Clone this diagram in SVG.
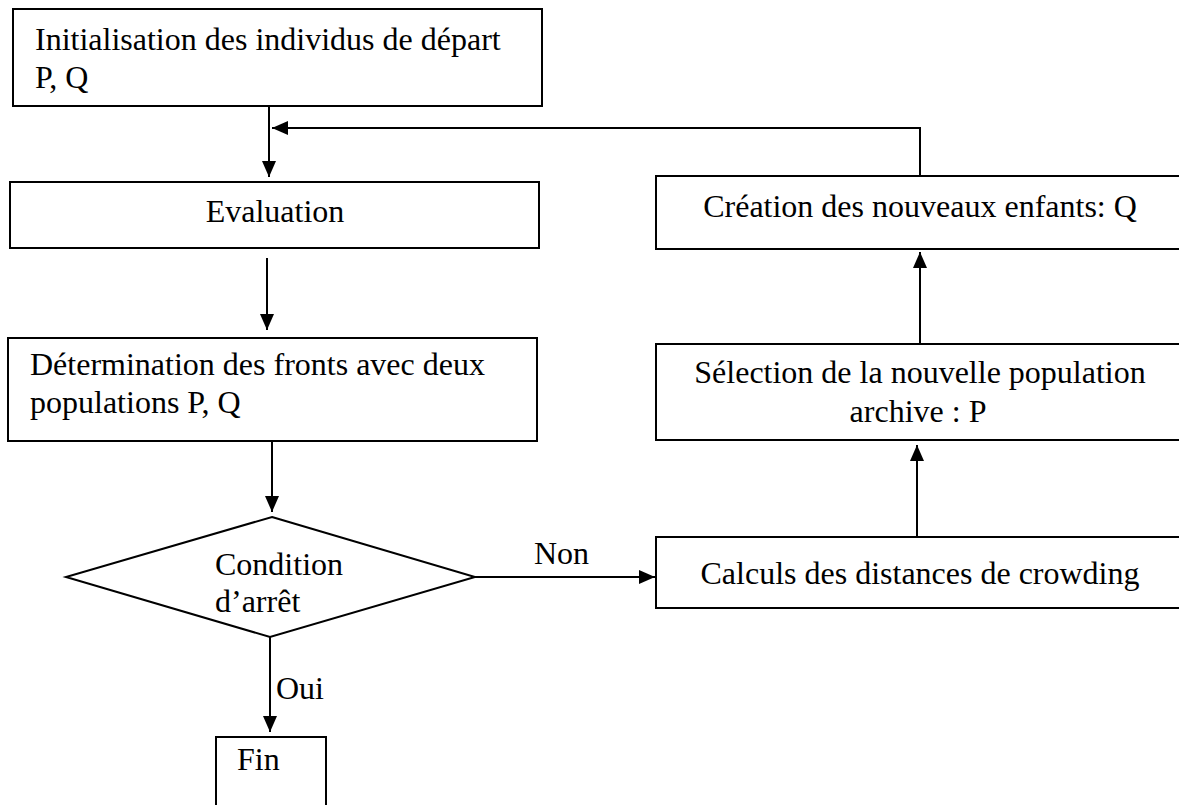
<svg xmlns="http://www.w3.org/2000/svg" width="1179" height="805" viewBox="0 0 1179 805">
<style>
.box{fill:#fff;stroke:#000;stroke-width:2}
.ln{fill:none;stroke:#000;stroke-width:2}
.t{font-family:'Liberation Serif','Times New Roman',Times,'DejaVu Serif',serif;font-size:32px;fill:#000}
.c{text-anchor:middle}
</style>
<defs>
<marker id="ah" markerUnits="userSpaceOnUse" markerWidth="16" markerHeight="14" refX="16" refY="7" orient="auto">
<path d="M0,0 L16,7 L0,14 z" fill="#000"/>
</marker>
</defs>
<rect width="1179" height="805" fill="#fff"/>
<g id="connectors">
<path class="ln" d="M269,106 V177" marker-end="url(#ah)"/>
<path class="ln" d="M920,176 V128 H272" marker-end="url(#ah)"/>
<path class="ln" d="M267,258 V330" marker-end="url(#ah)"/>
<path class="ln" d="M272,441 V512" marker-end="url(#ah)"/>
<path class="ln" d="M475,577 H655" marker-end="url(#ah)"/>
<path class="ln" d="M270,637 V732" marker-end="url(#ah)"/>
<path class="ln" d="M917,537 V445" marker-end="url(#ah)"/>
<path class="ln" d="M920,344 V252" marker-end="url(#ah)"/>
<text class="t" font-family="Liberation Serif, serif" x="534" y="564">Non</text>
<text class="t" font-family="Liberation Serif, serif" x="276" y="699">Oui</text>
</g>
<g id="init" font-family="Liberation Serif, serif">
<rect class="box" x="13" y="9" width="529" height="97"/>
<text class="t" x="35" y="50">Initialisation des individus de départ</text>
<text class="t" x="35" y="88">P, Q</text>
</g>
<g id="evaluation">
<rect class="box" x="10" y="182" width="529" height="66"/>
<text class="t c" x="275" y="222">Evaluation</text>
</g>
<g id="fronts">
<rect class="box" x="8" y="338" width="529" height="103"/>
<text class="t" x="30" y="375">Détermination des fronts avec deux</text>
<text class="t" x="30" y="413">populations P, Q</text>
</g>
<g id="condition">
<polygon class="box" points="272,517 475,577 270,637 66,577"/>
<text class="t" x="215" y="575">Condition</text>
<text class="t" x="215" y="612">d’arrêt</text>
</g>
<g id="fin">
<rect class="box" x="216" y="737" width="110" height="80"/>
<text class="t" x="237" y="770">Fin</text>
</g>
<g id="crowding">
<rect class="box" x="656" y="537" width="530" height="71"/>
<text class="t c" x="920" y="584">Calculs des distances de crowding</text>
</g>
<g id="selection">
<rect class="box" x="656" y="344" width="530" height="96"/>
<text class="t c" x="920" y="383">Sélection de la nouvelle population</text>
<text class="t c" x="918" y="422">archive : P</text>
</g>
<g id="creation">
<rect class="box" x="656" y="176" width="530" height="73"/>
<text class="t c" x="920" y="217">Création des nouveaux enfants: Q</text>
</g>
</svg>
